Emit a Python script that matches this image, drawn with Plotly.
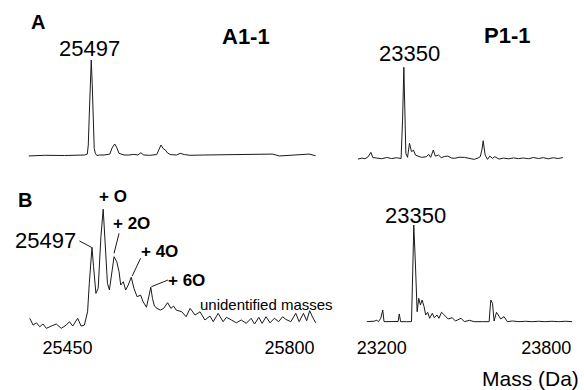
import plotly.graph_objects as go

# ---------------- data (mass in Da, relative intensity in %) ----------------
# Panel A, A1-1 (full spectrum)
a1_mass = [24489, 24745, 25065, 25385, 25433, 25449, 25465, 25481, 25497, 25513,
           25529, 25545, 25561, 25588, 25625, 25705, 25796, 25833, 25876, 25905,
           25945, 26025, 26105, 26185, 26249, 26297, 26345, 26441, 26553, 26593,
           26622, 26657, 26692, 26729, 26772, 26873, 26932, 27001, 27092, 27305,
           27625, 27945, 28185, 28425, 28532, 28745, 29012, 29118]
a1_int = [-1, -0.3, -0.5, 0, 1.0, 10.5, 42, 79, 100, 74,
          32, 7, 2, -0.5, 0, 0, 1, 7.4, 11.6, 8.4,
          1.8, 0, 0, 0.7, 0, 2.4, 0, -0.3, 0.5, 6.3,
          10.5, 6.8, 5.3, 2.1, 0.5, 0, 1.8, 0.5, -0.3, 0,
          0.3, 0, 0.2, 1, -1, 0, 1, -0.7]

# Panel A, P1-1 (full spectrum)
p1_mass = [22887, 22927, 22957, 22987, 23017, 23037, 23077, 23127, 23177, 23227,
           23277, 23322, 23337, 23350, 23360, 23370, 23387, 23407, 23427, 23447,
           23467, 23494, 23527, 23577, 23600, 23620, 23647, 23667, 23700, 23727,
           23757, 23794, 23827, 23860, 23907, 23960, 24007, 24060, 24097, 24120,
           24137, 24150, 24160, 24170, 24194, 24217, 24244, 24267, 24310, 24357,
           24407, 24457, 24507, 24557, 24607, 24657, 24707, 24757, 24807, 24857,
           24907, 24954]
p1_int = [-0.8, 0.3, -0.4, 1.4, 6.6, 0.9, 0.3, -0.4, 0.9, -0.2,
          0.7, -0.2, 42, 100, 53, 5.5, 1.1, 16.5, 7.3, 9.1,
          3.6, 2.5, 1.1, 1.8, 4.4, 1.1, 9.1, 2.5, 3.6, 0.7,
          2.0, 2.5, 0.5, 0, 1.2, 1.1, -0.2, -1.1, 0.3, 1.8,
          9.1, 19.3, 11.3, 3.6, -1.1, 2.5, 0, 1.8, -0.8, 0.3,
          -0.5, 0.5, -0.3, 0.4, -0.4, 0.9, -0.2, 0.8, -0.5, 0.7,
          -0.2, 0.9]

# Panel B, A1-1 (zoomed, oxidation series)
b1_mass = [25390.6, 25395.8, 25401.1, 25406.3, 25411.4, 25416.7, 25424.5, 25432.3,
           25440.2, 25448.0, 25453.1, 25458.3, 25466.1, 25471.4, 25476.6, 25481.7,
           25484.4, 25488.6, 25491.1, 25494.8, 25498.4, 25502.7, 25506.3, 25509.4,
           25513.0, 25516.1, 25519.2, 25523.4, 25527.7, 25531.3, 25533.9, 25538.0,
           25541.7, 25545.8, 25550.5, 25554.7, 25559.8, 25565.2, 25569.2, 25574.5,
           25578.1, 25581.3, 25583.9, 25587.0, 25591.1, 25596.4, 25601.6, 25607.8,
           25613.0, 25617.2, 25621.4, 25627.7, 25630.2, 25637.0, 25643.3, 25651.1,
           25658.9, 25666.7, 25674.5, 25679.7, 25687.5, 25695.3, 25700.5, 25708.3,
           25716.1, 25723.9, 25731.7, 25739.5, 25744.8, 25751.6, 25756.7, 25763.0,
           25769.2, 25776.1, 25782.8, 25789.1, 25794.2, 25802.0, 25809.8, 25815.2,
           25821.9, 25827.0, 25831.7, 25836.0, 25841.1]
b1_int = [9.7, 4.1, 6.0, 2.7, 5.0, 1.4, 3.3, 5.0,
          1.4, 4.1, 6.9, 3.3, 9.7, 3.3, 4.1, 15.1,
          38.6, 68.3, 52.3, 30.3, 34.5, 77.1, 99.8, 74.4,
          38.6, 33.1, 44.0, 60.6, 56.4, 48.2, 37.2, 39.9,
          33.1, 37.2, 43.6, 34.5, 27.5, 28.9, 23.4, 18.8,
          27.5, 35.3, 26.2, 19.8, 17.9, 16.5, 17.9, 22.6,
          17.9, 19.8, 16.5, 15.1, 15.1, 11.0, 17.9, 12.4,
          15.1, 8.3, 11.6, 6.9, 13.8, 6.9, 10.5, 8.3,
          6.0, 8.3, 5.5, 9.7, 5.0, 10.5, 5.5, 11.0,
          6.0, 9.7, 6.9, 11.0, 8.8, 6.9, 13.8, 6.9,
          13.8, 7.7, 16.0, 11.0, 6.0]

# Panel B, P1-1 (zoomed)
b2_mass = [23145.8, 23163.9, 23172.2, 23181.9, 23188.1, 23196.4, 23203.6, 23208.3,
           23230.0, 23242.3, 23259.6, 23264.0, 23268.7, 23290.4, 23308.4, 23313.1,
           23316.7, 23322.9, 23329.0, 23334.8, 23340.9, 23347.1, 23354.3, 23360.1,
           23367.3, 23374.6, 23384.3, 23391.5, 23401.3, 23408.5, 23417.9, 23425.2,
           23432.4, 23442.1, 23456.6, 23468.5, 23489.1, 23501.1, 23519.1, 23537.2,
           23567.5, 23591.4, 23594.6, 23597.5, 23603.7, 23609.5, 23618.2, 23625.4,
           23633.7, 23645.6, 23657.9, 23676.0, 23699.8, 23724.0, 23748.2, 23772.1,
           23796.3, 23820.5, 23844.4, 23868.6, 23893.9]
b2_int = [0, 0, 0.5, 1.4, 0, 3.5, 12.1, 0,
          0, 0.4, 0.2, 8.0, 0, 0, 0, 53.5,
          100, 58.6, 10.3, 24.2, 17.3, 22.4, 15.5, 6.9,
          9.7, 3.5, 8.7, 4.1, 6.9, 3.5, 9.7, 7.7,
          5.2, 2.8, 4.1, 0.7, 3.5, 0, 1.4, 0,
          0, 0, 12.1, 22.4, 19.0, 0.7, 9.7, 6.9,
          2.8, 5.2, 0, 0.7, 0, 0.4, 0, 0.4,
          0, 0.4, 0, 0.4, 0]

b1_ticks = [25450, 25800]
b2_ticks = [23200, 23800]

# ---------------- figure ----------------
W, H = 584, 390
FONT = "Liberation Sans, Arial, Helvetica, sans-serif"
LINE = dict(color="#1a1a1a", width=1)


def xd(a, b):
    return [a / W, b / W]


def yd(top, bottom):
    return [1 - bottom / H, 1 - top / H]


fig = go.Figure()
fig.add_trace(go.Scatter(x=a1_mass, y=a1_int, mode="lines", line=LINE, xaxis="x", yaxis="y"))
fig.add_trace(go.Scatter(x=p1_mass, y=p1_int, mode="lines", line=LINE, xaxis="x2", yaxis="y2"))
fig.add_trace(go.Scatter(x=b1_mass, y=b1_int, mode="lines", line=LINE, xaxis="x3", yaxis="y3"))
fig.add_trace(go.Scatter(x=b2_mass, y=b2_int, mode="lines", line=LINE, xaxis="x4", yaxis="y4"))

hidden = dict(visible=False, showgrid=False, zeroline=False, fixedrange=True)
tickax = dict(showgrid=False, zeroline=False, showline=False, ticks="",
              tickfont=dict(family=FONT, size=18, color="black"), tickmode="array")

fig.update_layout(
    width=W, height=H, margin=dict(l=0, r=0, t=0, b=0),
    paper_bgcolor="white", plot_bgcolor="white", showlegend=False,
    font=dict(family=FONT, color="black"),
    xaxis=dict(domain=xd(22, 316), range=[24457, 29161], anchor="y", **hidden),
    yaxis=dict(domain=yd(40, 165), range=[-10.5, 121.1], anchor="x", **hidden),
    xaxis2=dict(domain=xd(352, 567), range=[22847, 24997], anchor="y2", **hidden),
    yaxis2=dict(domain=yd(40, 165), range=[-7.3, 130], anchor="x2", **hidden),
    xaxis3=dict(domain=xd(22, 316), range=[25385.9, 25845.3], anchor="y3",
                tickvals=b1_ticks, ticktext=[str(t) for t in b1_ticks], **tickax),
    yaxis3=dict(domain=yd(190, 335), range=[-4.1, 115.7], anchor="x3", **hidden),
    xaxis4=dict(domain=xd(360, 576), range=[23127.7, 23908.3], anchor="y4",
                tickvals=b2_ticks, ticktext=[str(t) for t in b2_ticks], **tickax),
    yaxis4=dict(domain=yd(200, 335), range=[-13.8, 125.9], anchor="x4", **hidden),
)

ann = []


def txt(text, x, y, xref, yref, size, bold=False, xanchor="center"):
    ann.append(dict(text=f"<b>{text}</b>" if bold else text, x=x, y=y, xref=xref, yref=yref,
                    showarrow=False, xanchor=xanchor, yanchor="middle",
                    font=dict(family=FONT, size=size, color="black")))


# panel letters and titles (paper coords)
txt("A", 33 / W, 1 - 22 / H, "paper", "paper", 20, bold=True)
txt("B", 20 / W, 1 - 200 / H, "paper", "paper", 20, bold=True)
txt("A1-1", 243 / W, 1 - 36 / H, "paper", "paper", 22, bold=True)
txt("P1-1", 506 / W, 1 - 35 / H, "paper", "paper", 22, bold=True)
txt("Mass (Da)", 530 / W, 1 - 378 / H, "paper", "paper", 21)

# peak labels (data coords)
txt("25497", 25465, 112.6, "x", "y", 22)
txt("23350", 23407, 115.7, "x2", "y2", 22)
txt("23350", 23322.9, 110.3, "x4", "y4", 22)
txt("25497", 25467.2, 73.6, "x3", "y3", 22, xanchor="right")
txt("+ O", 25521.6, 110.2, "x3", "y3", 17, bold=True)
txt("+ 2O", 25550.8, 88.2, "x3", "y3", 17, bold=True)
txt("+ 4O", 25595.0, 64.7, "x3", "y3", 17, bold=True)
txt("+ 6O", 25638.0, 41.3, "x3", "y3", 17, bold=True)
txt("unidentified masses", 25656.3, 20.7, "x3", "y3", 15, xanchor="left")
fig.update_layout(annotations=ann)

# leader lines
leaders = [((25468.8, 73.6), (25488.0, 68.3)),
           ((25531.3, 79.9), (25523.4, 63.4)),
           ((25565.2, 59.3), (25552.0, 44.6)),
           ((25608.3, 41.3), (25582.3, 35.8))]
for (x0, y0), (x1, y1) in leaders:
    fig.add_shape(type="line", x0=x0, y0=y0, x1=x1, y1=y1, xref="x3", yref="y3",
                  line=dict(color="#1a1a1a", width=1))

fig.write_html("out.html", config={"displayModeBar": False, "staticPlot": True},
               post_script="document.body.style.margin='0';document.body.style.overflow='hidden';")
